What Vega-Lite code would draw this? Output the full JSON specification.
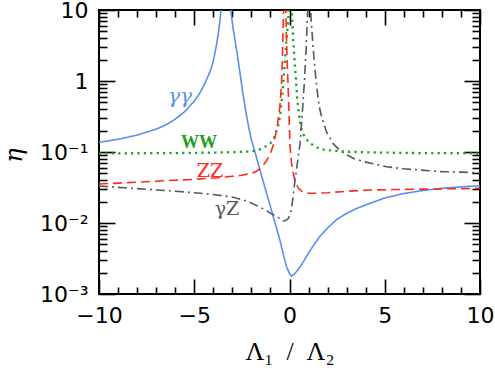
{
  "$schema": "https://vega.github.io/schema/vega-lite/v6.json",
  "width": 381,
  "height": 284,
  "autosize": "none",
  "padding": {"left": 99, "top": 10, "right": 15, "bottom": 74},
  "background": "white",
  "config": {
    "view": {"stroke": "black", "strokeWidth": 2},
    "axis": {"grid": false, "domain": false, "tickColor": "black", "tickWidth": 1.6, "labelColor": "black", "titleColor": "black", "labelFont": "DejaVu Sans", "labelFontSize": 22}
  },
  "datasets": {
    "curves": [
      {"s": "γγ", "x": -10, "y": 0.137}, {"s": "γγ", "x": -9, "y": 0.151}, {"s": "γγ", "x": -8, "y": 0.173}, {"s": "γγ", "x": -7, "y": 0.21}, {"s": "γγ", "x": -6.5, "y": 0.24}, {"s": "γγ", "x": -6, "y": 0.29}, {"s": "γγ", "x": -5.5, "y": 0.37}, {"s": "γγ", "x": -5, "y": 0.52}, {"s": "γγ", "x": -4.7, "y": 0.68}, {"s": "γγ", "x": -4.44, "y": 0.93}, {"s": "γγ", "x": -4.2, "y": 1.3}, {"s": "γγ", "x": -4.08, "y": 1.59}, {"s": "γγ", "x": -3.95, "y": 2.2}, {"s": "γγ", "x": -3.82, "y": 3.4}, {"s": "γγ", "x": -3.72, "y": 5}, {"s": "γγ", "x": -3.65, "y": 7.2}, {"s": "γγ", "x": -3.58, "y": 11}, {"s": "γγ", "x": -3.5, "y": 18}, {"s": "γγ", "x": -3.35, "y": 100}, {"s": "γγ", "x": -3.2, "y": 20}, {"s": "γγ", "x": -3.12, "y": 12}, {"s": "γγ", "x": -3.05, "y": 8.3}, {"s": "γγ", "x": -2.95, "y": 5.3}, {"s": "γγ", "x": -2.85, "y": 3.6}, {"s": "γγ", "x": -2.75, "y": 2.45}, {"s": "γγ", "x": -2.6, "y": 1.3}, {"s": "γγ", "x": -2.45, "y": 0.68}, {"s": "γγ", "x": -2.3, "y": 0.38}, {"s": "γγ", "x": -2.15, "y": 0.23}, {"s": "γγ", "x": -2.0, "y": 0.15}, {"s": "γγ", "x": -1.75, "y": 0.087}, {"s": "γγ", "x": -1.5, "y": 0.05}, {"s": "γγ", "x": -1.25, "y": 0.029}, {"s": "γγ", "x": -1.0, "y": 0.017}, {"s": "γγ", "x": -0.75, "y": 0.0098}, {"s": "γγ", "x": -0.5, "y": 0.0057}, {"s": "γγ", "x": -0.3, "y": 0.0034}, {"s": "γγ", "x": -0.15, "y": 0.0024}, {"s": "γγ", "x": 0, "y": 0.00195}, {"s": "γγ", "x": 0.1, "y": 0.00179}, {"s": "γγ", "x": 0.25, "y": 0.0019}, {"s": "γγ", "x": 0.5, "y": 0.0023}, {"s": "γγ", "x": 0.75, "y": 0.0029}, {"s": "γγ", "x": 1.0, "y": 0.0038}, {"s": "γγ", "x": 1.3, "y": 0.005}, {"s": "γγ", "x": 1.6, "y": 0.0065}, {"s": "γγ", "x": 2.0, "y": 0.0085}, {"s": "γγ", "x": 2.5, "y": 0.0113}, {"s": "γγ", "x": 3.0, "y": 0.0137}, {"s": "γγ", "x": 3.5, "y": 0.0159}, {"s": "γγ", "x": 4.0, "y": 0.018}, {"s": "γγ", "x": 5.0, "y": 0.0225}, {"s": "γγ", "x": 6.0, "y": 0.026}, {"s": "γγ", "x": 7.0, "y": 0.0287}, {"s": "γγ", "x": 8.0, "y": 0.0308}, {"s": "γγ", "x": 9.0, "y": 0.0323}, {"s": "γγ", "x": 10, "y": 0.0336},
      {"s": "WW", "x": -10, "y": 0.0957}, {"s": "WW", "x": -8, "y": 0.096}, {"s": "WW", "x": -6, "y": 0.0965}, {"s": "WW", "x": -4, "y": 0.098}, {"s": "WW", "x": -3, "y": 0.0995}, {"s": "WW", "x": -2, "y": 0.102}, {"s": "WW", "x": -1.5, "y": 0.11}, {"s": "WW", "x": -1.2, "y": 0.122}, {"s": "WW", "x": -1.0, "y": 0.133}, {"s": "WW", "x": -0.8, "y": 0.16}, {"s": "WW", "x": -0.6, "y": 0.23}, {"s": "WW", "x": -0.5, "y": 0.314}, {"s": "WW", "x": -0.4, "y": 0.55}, {"s": "WW", "x": -0.33, "y": 0.93}, {"s": "WW", "x": -0.25, "y": 1.7}, {"s": "WW", "x": -0.2, "y": 2.73}, {"s": "WW", "x": -0.12, "y": 5}, {"s": "WW", "x": -0.06, "y": 8}, {"s": "WW", "x": -0.03, "y": 12}, {"s": "WW", "x": 0.03, "y": 100}, {"s": "WW", "x": 0.09, "y": 14}, {"s": "WW", "x": 0.12, "y": 10}, {"s": "WW", "x": 0.2, "y": 3.5}, {"s": "WW", "x": 0.29, "y": 1.59}, {"s": "WW", "x": 0.41, "y": 0.54}, {"s": "WW", "x": 0.5, "y": 0.33}, {"s": "WW", "x": 0.64, "y": 0.204}, {"s": "WW", "x": 0.8, "y": 0.16}, {"s": "WW", "x": 1.08, "y": 0.132}, {"s": "WW", "x": 1.6, "y": 0.11}, {"s": "WW", "x": 2.0, "y": 0.106}, {"s": "WW", "x": 3.0, "y": 0.101}, {"s": "WW", "x": 4.0, "y": 0.099}, {"s": "WW", "x": 6.0, "y": 0.097}, {"s": "WW", "x": 8.0, "y": 0.0963}, {"s": "WW", "x": 10, "y": 0.0957},
      {"s": "ZZ", "x": -10, "y": 0.0354}, {"s": "ZZ", "x": -9, "y": 0.0365}, {"s": "ZZ", "x": -8, "y": 0.0376}, {"s": "ZZ", "x": -7, "y": 0.0388}, {"s": "ZZ", "x": -6, "y": 0.04}, {"s": "ZZ", "x": -5, "y": 0.0412}, {"s": "ZZ", "x": -4, "y": 0.043}, {"s": "ZZ", "x": -3, "y": 0.0455}, {"s": "ZZ", "x": -2.5, "y": 0.047}, {"s": "ZZ", "x": -2, "y": 0.05}, {"s": "ZZ", "x": -1.75, "y": 0.053}, {"s": "ZZ", "x": -1.5, "y": 0.06}, {"s": "ZZ", "x": -1.25, "y": 0.072}, {"s": "ZZ", "x": -1.0, "y": 0.095}, {"s": "ZZ", "x": -0.85, "y": 0.125}, {"s": "ZZ", "x": -0.7, "y": 0.19}, {"s": "ZZ", "x": -0.6, "y": 0.28}, {"s": "ZZ", "x": -0.5, "y": 0.45}, {"s": "ZZ", "x": -0.42, "y": 0.9}, {"s": "ZZ", "x": -0.37, "y": 2.2}, {"s": "ZZ", "x": -0.34, "y": 5}, {"s": "ZZ", "x": -0.31, "y": 10}, {"s": "ZZ", "x": -0.28, "y": 18}, {"s": "ZZ", "x": -0.26, "y": 100}, {"s": "ZZ", "x": -0.22, "y": 18}, {"s": "ZZ", "x": -0.19, "y": 9}, {"s": "ZZ", "x": -0.16, "y": 4}, {"s": "ZZ", "x": -0.12, "y": 1.8}, {"s": "ZZ", "x": -0.07, "y": 0.8}, {"s": "ZZ", "x": -0.02, "y": 0.3}, {"s": "ZZ", "x": 0.03, "y": 0.12}, {"s": "ZZ", "x": 0.1, "y": 0.072}, {"s": "ZZ", "x": 0.2, "y": 0.05}, {"s": "ZZ", "x": 0.3, "y": 0.038}, {"s": "ZZ", "x": 0.46, "y": 0.031}, {"s": "ZZ", "x": 0.7, "y": 0.027}, {"s": "ZZ", "x": 0.9, "y": 0.0262}, {"s": "ZZ", "x": 1.3, "y": 0.0262}, {"s": "ZZ", "x": 2, "y": 0.0267}, {"s": "ZZ", "x": 3, "y": 0.028}, {"s": "ZZ", "x": 4.2, "y": 0.0291}, {"s": "ZZ", "x": 5.5, "y": 0.0296}, {"s": "ZZ", "x": 7, "y": 0.03}, {"s": "ZZ", "x": 8.5, "y": 0.0304}, {"s": "ZZ", "x": 10, "y": 0.0308},
      {"s": "γZ", "x": -10, "y": 0.0332}, {"s": "γZ", "x": -9, "y": 0.0318}, {"s": "γZ", "x": -8, "y": 0.0305}, {"s": "γZ", "x": -7, "y": 0.0292}, {"s": "γZ", "x": -6, "y": 0.028}, {"s": "γZ", "x": -5, "y": 0.0267}, {"s": "γZ", "x": -4, "y": 0.0252}, {"s": "γZ", "x": -3, "y": 0.0232}, {"s": "γZ", "x": -2.25, "y": 0.0205}, {"s": "γZ", "x": -1.5, "y": 0.0165}, {"s": "γZ", "x": -1.0, "y": 0.0138}, {"s": "γZ", "x": -0.6, "y": 0.012}, {"s": "γZ", "x": -0.33, "y": 0.0107}, {"s": "γZ", "x": -0.15, "y": 0.011}, {"s": "γZ", "x": -0.05, "y": 0.0117}, {"s": "γZ", "x": 0.05, "y": 0.0138}, {"s": "γZ", "x": 0.12, "y": 0.017}, {"s": "γZ", "x": 0.2, "y": 0.025}, {"s": "γZ", "x": 0.29, "y": 0.04}, {"s": "γZ", "x": 0.38, "y": 0.06}, {"s": "γZ", "x": 0.46, "y": 0.086}, {"s": "γZ", "x": 0.55, "y": 0.13}, {"s": "γZ", "x": 0.63, "y": 0.25}, {"s": "γZ", "x": 0.72, "y": 0.54}, {"s": "γZ", "x": 0.8, "y": 1.2}, {"s": "γZ", "x": 0.87, "y": 2.73}, {"s": "γZ", "x": 0.93, "y": 7}, {"s": "γZ", "x": 0.97, "y": 12}, {"s": "γZ", "x": 1.05, "y": 100}, {"s": "γZ", "x": 1.1, "y": 12}, {"s": "γZ", "x": 1.14, "y": 7}, {"s": "γZ", "x": 1.25, "y": 2.73}, {"s": "γZ", "x": 1.38, "y": 1.1}, {"s": "γZ", "x": 1.51, "y": 0.54}, {"s": "γZ", "x": 1.6, "y": 0.39}, {"s": "γZ", "x": 1.75, "y": 0.27}, {"s": "γZ", "x": 1.95, "y": 0.19}, {"s": "γZ", "x": 2.3, "y": 0.13}, {"s": "γZ", "x": 2.65, "y": 0.105}, {"s": "γZ", "x": 3.0, "y": 0.091}, {"s": "γZ", "x": 3.35, "y": 0.0815}, {"s": "γZ", "x": 4.0, "y": 0.072}, {"s": "γZ", "x": 5.1, "y": 0.062}, {"s": "γZ", "x": 6, "y": 0.058}, {"s": "γZ", "x": 6.85, "y": 0.0557}, {"s": "γZ", "x": 8, "y": 0.053}, {"s": "γZ", "x": 9, "y": 0.052}, {"s": "γZ", "x": 10, "y": 0.051}
    ],
    "labels": [
      {"s": "γγ", "x": -5.75, "y": 0.6, "t": "γγ"},
      {"s": "WW", "x": -4.75, "y": 0.132, "t": "WW"},
      {"s": "ZZ", "x": -4.17, "y": 0.0548, "t": "ZZ"},
      {"s": "γZ", "x": -3.28, "y": 0.0155, "t": "γZ"}
    ]
  },
  "data": {"name": "curves"},
  "resolve": {"axis": {"x": "independent", "y": "independent"}},
  "layer": [
    {
      "mark": {"type": "line", "clip": true},
      "encoding": {
        "x": {"field": "x", "type": "quantitative", "scale": {"domain": [-10, 10], "nice": false, "zero": false},
              "axis": {"orient": "bottom", "values": [-10, -5, 0, 5, 10], "ticks": false, "labelPadding": 11, "labelFlush": false, "title": "Λ₁\u00a0\u00a0/\u00a0\u00a0Λ₂", "titleFont": "Liberation Serif", "titleFontSize": 26, "titleFontWeight": "normal", "titleBaseline": "alphabetic", "titleY": 65}},
        "y": {"field": "y", "type": "quantitative", "scale": {"type": "log", "domain": [0.001, 10], "nice": false},
              "axis": {"orient": "left", "values": [0.001, 0.01, 0.1, 1, 10], "ticks": false, "labelPadding": 11, "labelFlush": false,
                       "labelExpr": "datum.value > 5 ? '10' : datum.value > 0.5 ? '1' : datum.value > 0.05 ? '10⁻¹' : datum.value > 0.005 ? '10⁻²' : '10⁻³'",
                       "title": "η", "titleFont": "DejaVu Serif", "titleFontStyle": "italic", "titleFontWeight": "normal", "titleFontSize": 24, "titleAngle": -90, "titleBaseline": "middle", "titleAlign": "center", "titleX": -85, "titleY": 145}},
        "color": {"field": "s", "type": "nominal", "scale": {"domain": ["γγ", "WW", "ZZ", "γZ"], "range": ["#5a8ef0", "#1f9e1f", "#ff2a1a", "#535b5b"]}, "legend": null},
        "strokeDash": {"field": "s", "type": "nominal", "scale": {"domain": ["γγ", "WW", "ZZ", "γZ"], "range": [[1, 0], [2.2, 4.2], [9, 5], [9, 4, 2, 4]]}, "legend": null},
        "strokeWidth": {"field": "s", "type": "nominal", "scale": {"type": "ordinal", "domain": ["γγ", "WW", "ZZ", "γZ"], "range": [1.6, 2.3, 1.6, 1.6]}, "legend": null}
      }
    },
    {
      "mark": {"type": "point", "opacity": 0},
      "encoding": {
        "x": {"field": "x", "type": "quantitative", "scale": {"domain": [-10, 10], "nice": false, "zero": false},
              "axis": {"orient": "bottom", "values": [-10, -5, 0, 5, 10], "labels": false, "tickSize": -15, "title": null}},
        "y": {"field": "y", "type": "quantitative", "scale": {"type": "log", "domain": [0.001, 10], "nice": false},
              "axis": {"orient": "left", "values": [0.001, 0.01, 0.1, 1, 10], "labels": false, "tickSize": -16, "title": null}}
      }
    },
    {
      "mark": {"type": "point", "opacity": 0},
      "encoding": {
        "x": {"field": "x", "type": "quantitative", "scale": {"domain": [-10, 10], "nice": false, "zero": false},
              "axis": {"orient": "bottom", "values": [-9, -8, -7, -6, -4, -3, -2, -1, 1, 2, 3, 4, 6, 7, 8, 9], "labels": false, "tickSize": -7, "title": null}},
        "y": {"field": "y", "type": "quantitative", "scale": {"type": "log", "domain": [0.001, 10], "nice": false},
              "axis": {"orient": "left", "values": [0.002, 0.003, 0.004, 0.005, 0.006, 0.007, 0.008, 0.009, 0.02, 0.03, 0.04, 0.05, 0.06, 0.07, 0.08, 0.09, 0.2, 0.3, 0.4, 0.5, 0.6, 0.7, 0.8, 0.9, 2, 3, 4, 5, 6, 7, 8, 9], "labels": false, "tickSize": -8, "title": null}}
      }
    },
    {
      "mark": {"type": "point", "opacity": 0},
      "encoding": {
        "x": {"field": "x", "type": "quantitative", "scale": {"domain": [-10, 10], "nice": false, "zero": false},
              "axis": {"orient": "top", "values": [-10, -5, 0, 5, 10], "labels": false, "tickSize": -15, "title": null}},
        "y": {"field": "y", "type": "quantitative", "scale": {"type": "log", "domain": [0.001, 10], "nice": false},
              "axis": {"orient": "right", "values": [0.001, 0.01, 0.1, 1, 10], "labels": false, "tickSize": -16, "title": null}}
      }
    },
    {
      "mark": {"type": "point", "opacity": 0},
      "encoding": {
        "x": {"field": "x", "type": "quantitative", "scale": {"domain": [-10, 10], "nice": false, "zero": false},
              "axis": {"orient": "top", "values": [-9, -8, -7, -6, -4, -3, -2, -1, 1, 2, 3, 4, 6, 7, 8, 9], "labels": false, "tickSize": -7, "title": null}},
        "y": {"field": "y", "type": "quantitative", "scale": {"type": "log", "domain": [0.001, 10], "nice": false},
              "axis": {"orient": "right", "values": [0.002, 0.003, 0.004, 0.005, 0.006, 0.007, 0.008, 0.009, 0.02, 0.03, 0.04, 0.05, 0.06, 0.07, 0.08, 0.09, 0.2, 0.3, 0.4, 0.5, 0.6, 0.7, 0.8, 0.9, 2, 3, 4, 5, 6, 7, 8, 9], "labels": false, "tickSize": -8, "title": null}}
      }
    },
    {
      "data": {"name": "labels"},
      "transform": [{"filter": "datum.s == 'γγ'"}],
      "mark": {"type": "text", "font": "DejaVu Serif", "fontStyle": "italic", "fontSize": 20, "align": "center", "baseline": "middle"},
      "encoding": {
        "x": {"field": "x", "type": "quantitative", "scale": {"domain": [-10, 10], "nice": false, "zero": false}, "axis": null},
        "y": {"field": "y", "type": "quantitative", "scale": {"type": "log", "domain": [0.001, 10], "nice": false}, "axis": null},
        "text": {"field": "t"},
        "color": {"field": "s", "type": "nominal", "legend": null}
      }
    },
    {
      "data": {"name": "labels"},
      "transform": [{"filter": "datum.s == 'WW'"}],
      "mark": {"type": "text", "font": "Liberation Serif", "fontWeight": "bold", "fontSize": 18, "align": "center", "baseline": "middle"},
      "encoding": {
        "x": {"field": "x", "type": "quantitative", "scale": {"domain": [-10, 10], "nice": false, "zero": false}, "axis": null},
        "y": {"field": "y", "type": "quantitative", "scale": {"type": "log", "domain": [0.001, 10], "nice": false}, "axis": null},
        "text": {"field": "t"},
        "color": {"field": "s", "type": "nominal", "legend": null}
      }
    },
    {
      "data": {"name": "labels"},
      "transform": [{"filter": "datum.s == 'ZZ' || datum.s == 'γZ'"}],
      "mark": {"type": "text", "font": "DejaVu Serif", "fontSize": 19, "align": "center", "baseline": "middle"},
      "encoding": {
        "x": {"field": "x", "type": "quantitative", "scale": {"domain": [-10, 10], "nice": false, "zero": false}, "axis": null},
        "y": {"field": "y", "type": "quantitative", "scale": {"type": "log", "domain": [0.001, 10], "nice": false}, "axis": null},
        "text": {"field": "t"},
        "color": {"field": "s", "type": "nominal", "legend": null}
      }
    }
  ]
}
